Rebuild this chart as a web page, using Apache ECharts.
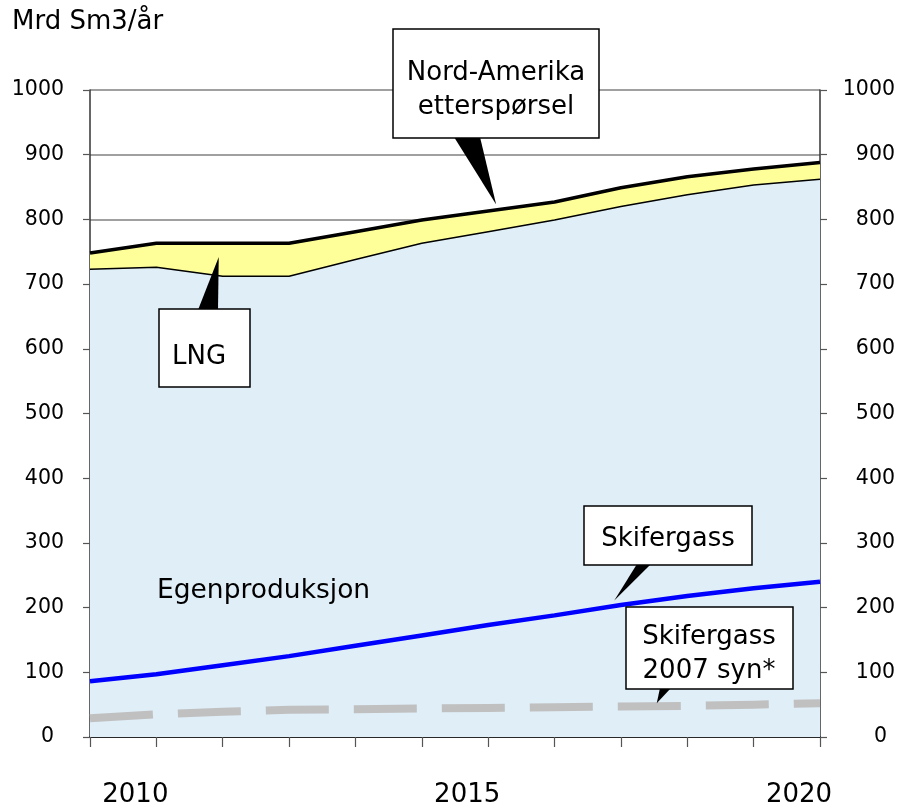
<!DOCTYPE html>
<html><head><meta charset="utf-8">
<script src="https://cdn.jsdelivr.net/npm/echarts@6/dist/echarts.min.js"></script>
<style>html,body{margin:0;padding:0;background:#fff}#c{width:899px;height:806px}</style>
</head><body><div id="c"></div>
<script>
// ---- data ----
const years = ['2009','2010','2011','2012','2013','2014','2015','2016','2017','2018','2019','2020'];
const xLabelYears = ['2010','2015','2020'];
const nordAmerikaEtterspoersel = [748,763,763,763,781,799,813,827,849,866,878,888];
const egenproduksjon = [723,726,712,712,738,763,781,799,820,838,853,862];
const skifergass = [86,97,111,125,141,157,173,188,204,218,230,240];
const skifergass2007syn = [29,35,39,42,43,44,45,46,47,48,50,52];
const yMin = 0, yMax = 1000, yStep = 100;
const unitLabel = 'Mrd Sm3/år';

const FONT = '"DejaVu Sans", Verdana, sans-serif';
const chart = echarts.init(document.getElementById('c'), null, {renderer: 'canvas'});

const yAxisCommon = {
  type: 'value', min: yMin, max: yMax, interval: yStep,
  axisLine: {show: true, lineStyle: {color: '#333', width: 1.5}},
  axisTick: {show: true, length: 7, lineStyle: {color: '#555', width: 1.2}},
  axisLabel: {fontSize: 20.5, color: '#000', fontFamily: FONT, formatter: v => v === 0 ? '{z|0}' : String(v)}
};

chart.setOption({
  animation: false,
  grid: {left: 90, right: 79, top: 90, bottom: 69, containLabel: false, outerBoundsMode: 'none'},
  xAxis: {
    type: 'category', data: years, boundaryGap: false,
    axisLine: {show: true, onZero: false, lineStyle: {color: '#000', width: 1.5}},
    axisTick: {show: true, interval: 0, length: 10, lineStyle: {color: '#555', width: 1.2}},
    axisLabel: {
      interval: (i, v) => xLabelYears.includes(v),
      margin: 45, fontSize: 26, color: '#000', fontFamily: FONT,
      padding: [0, 42, 0, 0]
    },
    splitLine: {show: false}
  },
  yAxis: [
    Object.assign({}, yAxisCommon, {
      position: 'left',
      axisLabel: Object.assign({}, yAxisCommon.axisLabel, {margin: 26,
        rich: {z: {fontSize: 20.5, fontFamily: FONT, color: '#000', padding: [0, 10, 0, 0]}}}),
      splitLine: {show: true, lineStyle: {color: '#808080', width: 1.5}}
    }),
    Object.assign({}, yAxisCommon, {
      position: 'right',
      axisLabel: Object.assign({}, yAxisCommon.axisLabel, {margin: 75, align: 'right',
        rich: {z: {fontSize: 20.5, fontFamily: FONT, color: '#000', padding: [0, 8, 0, 0]}}}),
      splitLine: {show: false}
    })
  ],
  series: [
    {
      name: 'Nord-Amerika etterspørsel', type: 'line', data: nordAmerikaEtterspoersel,
      symbol: 'none', z: 2,
      lineStyle: {color: '#000', width: 3.5},
      areaStyle: {color: '#ffff99', opacity: 1}
    },
    {
      name: 'Egenproduksjon', type: 'line', data: egenproduksjon,
      symbol: 'none', z: 3,
      lineStyle: {color: '#000', width: 1.5},
      areaStyle: {color: '#e0eef8', opacity: 1}
    },
    {
      name: 'Skifergass', type: 'line', data: skifergass,
      symbol: 'none', z: 5,
      lineStyle: {color: '#0000ff', width: 4.5}
    },
    {
      name: 'Skifergass 2007 syn*', type: 'line', data: skifergass2007syn,
      symbol: 'none', z: 4,
      lineStyle: {color: '#c0c0c0', width: 8, type: [63, 25], cap: 'butt'}
    }
  ]
});

// position helper: fractional category index -> pixel
function px(idx, val) {
  const i0 = Math.max(0, Math.min(years.length - 2, Math.floor(idx)));
  const f = idx - i0;
  const a = chart.convertToPixel({gridIndex: 0}, [i0, val]);
  const b = chart.convertToPixel({gridIndex: 0}, [i0 + 1, val]);
  return [a[0] + f * (b[0] - a[0]), a[1]];
}

const callouts = [
  {text: 'Nord-Amerika\netterspørsel', box: [393, 29, 206, 109], tc: [496, 90], base: [[454, 137], [480, 137]], tip: [6.12, 823]},
  {text: 'LNG', box: [159, 309, 91, 78], tc: [199, 357], base: [[198, 310], [218, 310]], tip: [1.94, 742]},
  {text: 'Skifergass', box: [584, 506, 168, 59], tc: [668, 539], base: [[637, 564], [651, 564]], tip: [7.9, 211]},
  {text: 'Skifergass\n2007 syn*', box: [626, 607, 167, 82], tc: [709, 654], base: [[660, 688], [671, 688]], tip: [8.54, 52]}
];

const graphics = [];
callouts.forEach(c => {
  const t = px(c.tip[0], c.tip[1]);
  graphics.push({type: 'polygon', z: 100, shape: {points: [c.base[0], c.base[1], t]}, style: {fill: '#000'}});
  graphics.push({type: 'rect', z: 101, shape: {x: c.box[0], y: c.box[1], width: c.box[2], height: c.box[3]},
    style: {fill: '#fff', stroke: '#000', lineWidth: 1.5}});
  graphics.push({type: 'text', z: 102, style: {text: c.text, x: c.tc[0], y: c.tc[1], align: 'center', verticalAlign: 'middle',
    textAlign: 'center', textVerticalAlign: 'middle', font: '26px ' + FONT, lineHeight: 34, fill: '#000'}});
});
graphics.push({type: 'text', z: 102, style: {text: 'Egenproduksjon', x: 157, y: 591, textAlign: 'left', textVerticalAlign: 'middle', align: 'left', verticalAlign: 'middle', font: '26.5px ' + FONT, fill: '#000'}});
graphics.push({type: 'text', z: 102, style: {text: unitLabel, x: 12, y: 22, textAlign: 'left', textVerticalAlign: 'middle', align: 'left', verticalAlign: 'middle', font: '26px ' + FONT, fill: '#000'}});

chart.setOption({graphic: graphics});
</script>
</body></html>
